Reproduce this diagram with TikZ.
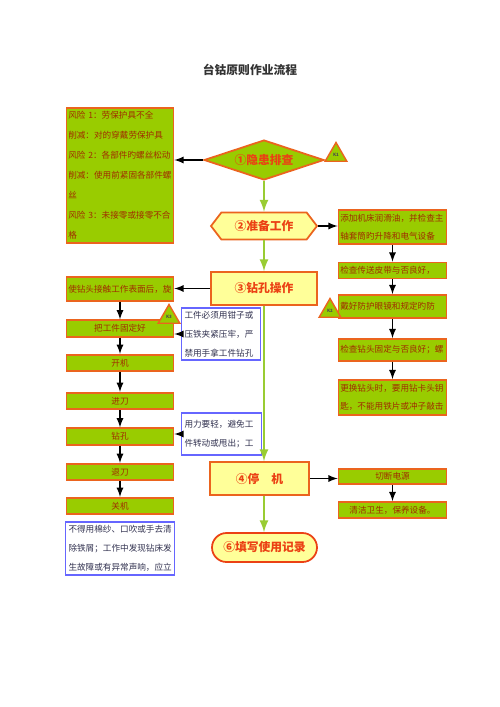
\documentclass[tikz,border=0pt]{standalone}
\usepackage{fontspec}
\setmainfont{Noto Sans CJK SC}
\usepackage{tikz}
\usetikzlibrary{shapes.geometric,shapes.symbols}
\definecolor{gfill}{RGB}{153,204,0}
\definecolor{bdr}{RGB}{235,100,30}
\definecolor{txt}{RGB}{160,45,0}
\definecolor{yfill}{RGB}{255,255,153}
\definecolor{hred}{RGB}{235,65,20}
\definecolor{lgreen}{RGB}{153,204,51}
\definecolor{nblue}{RGB}{102,102,255}
\definecolor{ntxt}{RGB}{50,50,80}

\begin{document}
\begin{tikzpicture}[x=0.02cm,y=-0.02cm,
  gbox/.style={draw=bdr,fill=gfill,line width=1pt,text=txt,font=\fontsize{4.9}{10.4}\selectfont,inner sep=1pt},
  lbox/.style={gbox,minimum width=2.14cm,minimum height=0.33cm},
  rbox/.style={gbox,align=left,text width=2.09cm},
  ybox/.style={draw=bdr,fill=yfill,line width=1pt,text=hred,font=\fontsize{6.7}{8}\selectfont\bfseries,inner sep=0pt},
  note/.style={draw=nblue,fill=white,line width=0.6pt,text=ntxt,font=\fontsize{4.9}{10.8}\selectfont,align=left,inner sep=1.5pt},
  ktri/.style={regular polygon,regular polygon sides=3,minimum size=0.5cm,inner sep=0pt,draw=bdr,fill=gfill,line width=0.8pt,font=\fontsize{2.5}{3}\selectfont\bfseries,text=black!70},
  barr/.style={-latex,line width=0.8pt},
  garr/.style={-latex,draw=lgreen,line width=1.3pt}]

\fill [white] (0,0) rectangle (500,707);
\useasboundingbox (0,0) rectangle (500,707);

\node [font=\fontsize{6.7}{8}\selectfont\bfseries,text=black!80] (title) at (250,70) {台钴原则作业流程};

\node [gbox,align=left,text width=2.07cm,minimum height=2.7cm,font=\fontsize{4.9}{11.4}\selectfont] (risk) at (120,175.5)
  {风险 1：劳保护具不全\\削减：对的穿戴劳保护具\\风险 2：各部件旳螺丝松动\\削减：使用前紧固各部件螺\\丝\\风险 3：未接零或接零不合\\格};

\node [diamond,aspect=3,draw=bdr,fill=gfill,line width=1pt,text=hred,font=\fontsize{6.7}{8}\selectfont\bfseries,minimum width=2.4cm,minimum height=0.8cm,inner sep=0pt] (d1) at (264,160) {①隐患排查};
\node [ybox,signal,signal to=east and west,signal pointer angle=105,minimum width=2.12cm,minimum height=0.54cm] (c2) at (264,226) {②准备工作};
\node [ybox,minimum width=2.12cm,minimum height=0.66cm] (c3) at (264,288.5) {③钻孔操作};
\node [ybox,minimum width=1.98cm,minimum height=0.66cm] (c4) at (259.5,478.5) {④停　机};
\node [ybox,draw=hred,rounded corners=0.29cm,minimum width=2.1cm,minimum height=0.58cm] (c6) at (264.5,547.5) {⑥填写使用记录};

\node [rbox,minimum height=0.68cm] (r1) at (392.5,227) {添加机床润滑油，并检查主\\轴套筒旳升降和电气设备};
\node [rbox,minimum height=0.32cm] (r2) at (392.5,270.5) {检查传送皮带与否良好，};
\node [rbox,minimum height=0.46cm] (r3) at (392.5,306.5) {戴好防护眼镜和规定旳防};
\node [rbox,minimum height=0.44cm] (r4) at (392.5,350) {检查钻头固定与否良好；螺};
\node [rbox,minimum height=0.7cm] (r5) at (392.5,397.5) {更换钻头时，要用钻卡头钥\\匙，不能用铁片或冲子敲击};
\node [rbox,align=center,minimum height=0.3cm] (r6) at (392.5,476.5) {切断电源};
\node [rbox,align=center,minimum height=0.32cm] (r7) at (392.5,510) {清洁卫生，保养设备。};

\node [gbox,align=left,text width=2.07cm,minimum height=0.48cm] (l1) at (120,289) {使钻头接触工作表面后，旋};
\foreach \n/\y/\t in {2/328.5/把工件固定好,3/363/开机,4/401/进刀,5/436.5/钻孔,6/472/退刀,7/506/关机}
  \node [lbox] (l\n) at (120,\y) {\t};

\node [note,text width=1.46cm,minimum height=1.04cm] (n1) at (221,334) {工件必须用钳子或\\压铁夹紧压牢，严\\禁用手拿工件钻孔};
\node [note,text width=1.48cm,minimum height=0.84cm] (n2) at (221.5,434) {用力要轻，避免工\\件转动或甩出；工};
\node [note,text width=2.06cm,minimum height=1.06cm] (n3) at (120,548.5) {不得用棉纱、口吹或手去清\\除铁屑；工作中发现钻床发\\生故障或有异常声响，应立};

\draw [barr] (d1.west) -- (d1.west -| risk.east);
\draw [garr] (d1.south) -- (d1.south |- c2.north);
\draw [barr] (c2.east) -- (c2.east -| r1.west);
\draw [garr] (c2.south) -- (c3.north);
\draw [barr] (c3.west) -- (c3.west -| l1.east);
\draw [garr] (c3.south) -- (c3.south |- c4.north);
\draw [barr] (c4.east) -- (c4.east -| r6.west);
\draw [garr] (c3.south |- c4.south) -- (c3.south |- c6.north);
\draw [barr] (n1.west) -- (n1.west -| l2.east);
\draw [barr] (n2.west) -- (n2.west -| l5.east);
\foreach \a/\b in {1/2,2/3,3/4,4/5,6/7}
  \draw [barr] (r\a) -- (r\b);
\foreach \a/\b in {1/2,2/3,3/4,4/5,5/6,6/7}
  \draw [barr] (l\a) -- (l\b);

\node [ktri] (k1) at (336,155) {K1};
\node [ktri] (k2) at (330,311) {K2};
\node [ktri] (k3) at (169,317) {K3};

\end{tikzpicture}
\end{document}
